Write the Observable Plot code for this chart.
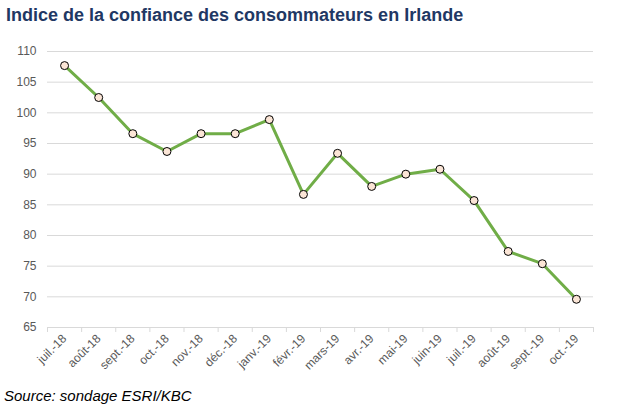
<!DOCTYPE html>
<html>
<head>
<meta charset="utf-8">
<script src="https://cdn.jsdelivr.net/npm/d3@7"></script>
<script src="https://cdn.jsdelivr.net/npm/@observablehq/plot@0.6"></script>
<style>
  body { margin: 0; background: #fff; width: 623px; height: 408px; overflow: hidden; }
  #title { font-family: "Liberation Sans", Arial, sans-serif; font-weight: bold; font-size: 18px; color: #1f3864; padding: 5px 0 0 6px; height: 31px; box-sizing: border-box; }
  #caption { font-family: "Liberation Sans", Arial, sans-serif; font-style: italic; font-size: 15px; color: #000; padding-left: 4px; margin-top: 6px; }
</style>
</head>
<body>
<div id="title">Indice de la confiance des consommateurs en Irlande</div>
<div id="chart"></div>
<div id="caption">Source: sondage ESRI/KBC</div>
<script>
const months = ["juil.-18","août-18","sept.-18","oct.-18","nov.-18","déc.-18","janv.-19","févr.-19","mars-19","avr.-19","mai-19","juin-19","juil.-19","août-19","sept.-19","oct.-19"];
const values = [107.7,102.5,96.6,93.7,96.6,96.6,98.9,86.7,93.4,88.0,90.0,90.8,85.7,77.4,75.4,69.6];
const yTicks = [65,70,75,80,85,90,95,100,105,110];

const data = months.map((m, i) => ({m, i: i + 0.5, v: values[i]}));
const bounds = d3.range(months.length + 1);

const chart = Plot.plot({
  width: 623,
  height: 350,
  marginLeft: 47,
  marginRight: 30,
  marginTop: 20,
  marginBottom: 54,
  style: { fontFamily: "'Liberation Sans', Arial, sans-serif", fontSize: "12px", color: "#595959", background: "#fff" },
  x: { domain: [0, months.length] },
  y: { domain: [65, 110] },
  marks: [
    Plot.gridY(yTicks, { stroke: "#d9d9d9", strokeOpacity: 1, strokeWidth: 1 }),
    Plot.axisY(yTicks, { tickSize: 0, tickPadding: 11, label: null, fill: "#595959", fontSize: 12 }),
    Plot.axisX(bounds, { tickSize: 5, tickFormat: () => "", stroke: "#d9d9d9", label: null }),
    Plot.axisX(data.map(d => d.i), { tickSize: 0, tickPadding: 9, tickRotate: -45, tickFormat: (d) => months[Math.floor(d)], label: null, fill: "#595959", fontSize: 12 }),
    Plot.lineY(data, { x: "i", y: "v", stroke: "#70ad47", strokeWidth: 3 }),
    Plot.dot(data, { x: "i", y: "v", r: 4, fill: "#fbe5d6", stroke: "#000", strokeWidth: 1 })
  ]
});
document.getElementById("chart").appendChild(chart);
</script>
</body>
</html>
